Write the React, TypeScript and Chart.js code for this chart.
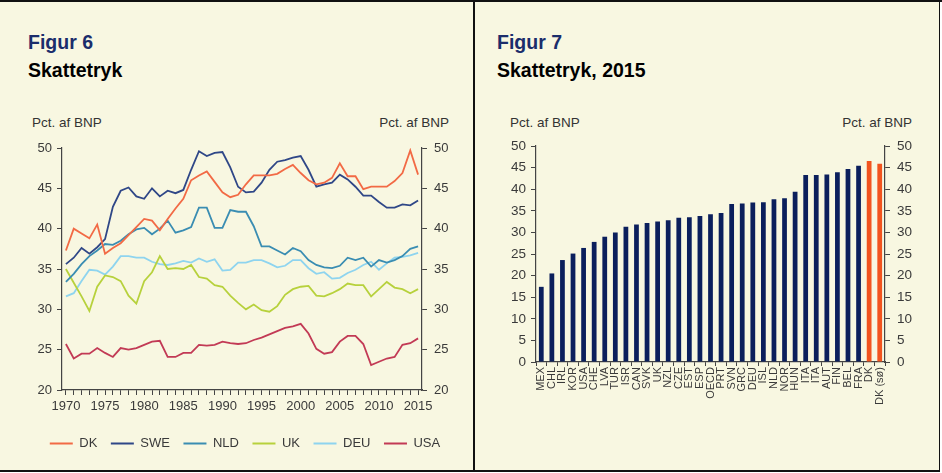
import React, { useEffect, useRef } from 'react';
import { Chart, registerables } from 'chart.js';

Chart.register(...registerables);

const FONT = '"Liberation Sans", Arial, Helvetica, sans-serif';

// ---------- Figur 6 data ----------
const years = [
  '1970', '1971', '1972', '1973', '1974', '1975', '1976', '1977', '1978', '1979',
  '1980', '1981', '1982', '1983', '1984', '1985', '1986', '1987', '1988', '1989',
  '1990', '1991', '1992', '1993', '1994', '1995', '1996', '1997', '1998', '1999',
  '2000', '2001', '2002', '2003', '2004', '2005', '2006', '2007', '2008', '2009',
  '2010', '2011', '2012', '2013', '2014', '2015',
];
const yearTickLabels = ['1970', '1975', '1980', '1985', '1990', '1995', '2000', '2005', '2010', '2015'];

const dk = [
  37.3, 40.0, 39.4, 38.8, 40.5, 36.9, 37.6, 38.2, 39.2, 40.2,
  41.2, 41.0, 39.8, 41.2, 42.5, 43.7, 46.0, 46.6, 47.1, 45.8,
  44.5, 43.9, 44.2, 45.5, 46.6, 46.6, 46.6, 46.8, 47.4, 47.9,
  46.9, 46.0, 45.5, 45.7, 46.3, 48.1, 46.5, 46.5, 44.9, 45.2,
  45.2, 45.2, 45.9, 46.9, 49.7, 46.7,
];
const swe = [
  35.6, 36.4, 37.6, 36.9, 37.7, 38.7, 42.7, 44.7, 45.1, 44.0,
  43.7, 45.0, 44.0, 44.7, 44.4, 44.8, 47.3, 49.6, 49.0, 49.4,
  49.5, 47.6, 45.2, 44.5, 44.6, 45.7, 47.3, 48.3, 48.5, 48.8,
  49.0, 47.3, 45.2, 45.5, 45.7, 46.7, 46.1, 45.2, 44.1, 44.1,
  43.3, 42.6, 42.6, 43.0, 42.9, 43.5,
];
const nld = [
  33.4, 34.4, 35.6, 36.6, 37.3, 38.1, 38.0, 38.5, 39.3, 39.9,
  40.1, 39.3, 40.0, 41.0, 39.5, 39.8, 40.2, 42.6, 42.6, 40.1,
  40.1, 42.3, 42.1, 42.1, 40.3, 37.8, 37.8, 37.3, 36.8, 37.6,
  37.2, 36.1, 35.5, 35.2, 35.1, 35.4, 36.4, 36.1, 36.4, 35.3,
  36.1, 35.8, 36.1, 36.6, 37.5, 37.8,
];
const uk = [
  35.0, 33.3, 31.6, 29.8, 32.8, 34.2, 34.0, 33.5, 31.7, 30.7,
  33.5, 34.6, 36.6, 35.0, 35.1, 35.0, 35.5, 34.0, 33.8, 33.0,
  32.8, 31.7, 30.8, 30.0, 30.6, 29.9, 29.7, 30.4, 31.8, 32.5,
  32.8, 32.9, 31.7, 31.6, 32.0, 32.5, 33.2, 33.0, 33.0, 31.6,
  32.5, 33.4, 32.7, 32.5, 32.0, 32.5,
];
const deu = [
  31.6, 32.0, 33.5, 34.9, 34.8, 34.3, 35.3, 36.6, 36.6, 36.4,
  36.4, 35.9, 35.6, 35.5, 35.7, 36.0, 35.8, 36.3, 35.9, 36.2,
  34.8, 34.9, 35.8, 35.8, 36.1, 36.1, 35.7, 35.2, 35.4, 36.1,
  36.1, 35.1, 34.4, 34.6, 33.8, 33.9, 34.5, 34.9, 35.5, 35.9,
  34.9, 35.7, 36.4, 36.5, 36.7, 37.0,
];
const usa = [
  25.7, 23.9, 24.5, 24.5, 25.2, 24.6, 24.1, 25.2, 25.0, 25.2,
  25.6, 26.0, 26.1, 24.1, 24.1, 24.6, 24.6, 25.6, 25.5, 25.6,
  26.0, 25.8, 25.7, 25.8, 26.2, 26.5, 26.9, 27.3, 27.7, 27.9,
  28.2, 27.0, 25.1, 24.5, 24.7, 26.0, 26.7, 26.7, 25.7, 23.1,
  23.5, 23.9, 24.1, 25.6, 25.8, 26.4,
];
const lineSeriesNames = ['DK', 'SWE', 'NLD', 'UK', 'DEU', 'USA'];
const lineSeriesValues = [dk, swe, nld, uk, deu, usa];
const lineColors = ['#f26a45', '#2f4787', '#3a8db2', '#b7d13c', '#8ed4ef', '#c23a55'];
const lineAxisMin = 20;
const lineAxisMax = 50;
const lineAxisStep = 5;

// ---------- Figur 7 data ----------
const countries = [
  'MEX', 'CHL', 'IRL', 'KOR', 'USA', 'CHE', 'LVA', 'TUR', 'ISR', 'CAN', 'SVK',
  'UK', 'NZL', 'CZE', 'EST', 'ESP', 'OECD', 'PRT', 'SVN', 'GRC', 'DEU', 'ISL',
  'NLD', 'NOR', 'HUN', 'ITA', 'ITA', 'AUT', 'FIN', 'BEL', 'FRA', 'DK', 'DK (sø)',
];
const burden2015 = [
  17.4, 20.5, 23.6, 25.1, 26.4, 27.8, 29.0, 30.0, 31.3, 31.8, 32.2,
  32.5, 32.8, 33.4, 33.5, 33.8, 34.2, 34.5, 36.6, 36.7, 36.9, 37.0,
  37.7, 37.9, 39.4, 43.3, 43.3, 43.4, 43.9, 44.7, 45.4, 46.5, 45.9,
];
const barAxisMin = 0;
const barAxisMax = 50;
const barAxisStep = 5;
const NAVY = '#0b1f5c';
const ORANGE = '#f2541f';

const AXIS = '#444444';
const TEXT = '#3a3a3a';

function LineChart() {
  const ref = useRef<HTMLCanvasElement | null>(null);
  useEffect(() => {
    if (!ref.current) return;
    const yScale = (position: 'left' | 'right', width: number, pad: number) => ({
      type: 'linear' as const,
      position,
      min: lineAxisMin,
      max: lineAxisMax,
      afterFit: (s: any) => { s.width = width; },
      ticks: { stepSize: lineAxisStep, color: TEXT, padding: pad, font: { family: FONT, size: 13 } },
      grid: { drawOnChartArea: false, color: AXIS, tickLength: 5, lineWidth: 1 },
      border: { color: AXIS, width: 1.2 },
    });
    const chart = new Chart(ref.current, {
      type: 'line',
      data: {
        labels: years,
        datasets: lineSeriesNames.map((name, i) => ({
          label: name,
          data: lineSeriesValues[i],
          borderColor: lineColors[i],
          backgroundColor: lineColors[i],
          borderWidth: 1.8,
          pointRadius: 0,
          tension: 0,
          yAxisID: 'y',
        })),
      },
      options: {
        responsive: false,
        animation: false,
        devicePixelRatio: 1,
        layout: { padding: { top: 18, left: 0, right: 0, bottom: 0 } },
        plugins: {
          tooltip: { enabled: false },
          legend: {
            position: 'bottom',
            labels: {
              boxWidth: 23,
              boxHeight: 2,
              padding: 13.5,
              color: TEXT,
              font: { family: FONT, size: 13 },
              generateLabels: (c: any) =>
                Chart.defaults.plugins.legend.labels.generateLabels(c).map((l: any) => ({ ...l, lineWidth: 0 })),
            },
          },
        },
        scales: {
          x: {
            type: 'category',
            offset: true,
            afterFit: (s: any) => { s.height = 33.5; },
            ticks: {
              autoSkip: false,
              maxRotation: 0,
              minRotation: 0,
              padding: 4,
              color: TEXT,
              font: { family: FONT, size: 13 },
              callback: (_v: any, idx: number) => (yearTickLabels.includes(years[idx]) ? years[idx] : ''),
            },
            grid: { drawOnChartArea: false, color: AXIS, tickLength: 5, offset: false },
            border: { color: AXIS, width: 1.2 },
          },
          y: yScale('left', 52, 5) as any,
          y2: yScale('right', 58, 7) as any,
        },
      },
    });
    return () => chart.destroy();
  }, []);
  return (
    <canvas
      ref={ref}
      width={470}
      height={330}
      style={{ position: 'absolute', left: 10, top: 130, width: 470, height: 330 }}
    />
  );
}

function BarChart() {
  const ref = useRef<HTMLCanvasElement | null>(null);
  useEffect(() => {
    if (!ref.current) return;
    const yScale = (position: 'left' | 'right', width: number, pad: number) => ({
      type: 'linear' as const,
      position,
      min: barAxisMin,
      max: barAxisMax,
      afterFit: (s: any) => { s.width = width; },
      ticks: { stepSize: barAxisStep, color: TEXT, padding: pad, font: { family: FONT, size: 13.5 } },
      grid: { drawOnChartArea: false, color: AXIS, tickLength: 5, lineWidth: 1 },
      border: { color: AXIS, width: 1.2 },
    });
    const chart = new Chart(ref.current, {
      type: 'bar',
      data: {
        labels: countries,
        datasets: [
          {
            label: 'Skattetryk 2015',
            data: burden2015,
            backgroundColor: countries.map((c) => (c.startsWith('DK') ? ORANGE : NAVY)),
            categoryPercentage: 1,
            barPercentage: 0.45,
            yAxisID: 'y',
          },
        ],
      },
      options: {
        responsive: false,
        animation: false,
        devicePixelRatio: 1,
        layout: { padding: { top: 16, left: 0, right: 0, bottom: 0 } },
        plugins: { tooltip: { enabled: false }, legend: { display: false } },
        scales: {
          x: {
            type: 'category',
            afterFit: (s: any) => { s.height = 111; },
            ticks: {
              autoSkip: false,
              maxRotation: 90,
              minRotation: 90,
              padding: 1,
              color: TEXT,
              font: { family: FONT, size: 11 },
            },
            grid: { drawOnChartArea: false, color: AXIS, tickLength: 4, offset: true },
            border: { color: AXIS, width: 1.2 },
          },
          y: yScale('left', 66, 5) as any,
          y2: yScale('right', 57, 7) as any,
        },
      },
    });
    return () => chart.destroy();
  }, []);
  return (
    <canvas
      ref={ref}
      width={472}
      height={343}
      style={{ position: 'absolute', left: 470, top: 130, width: 472, height: 343 }}
    />
  );
}

const abs = (s: React.CSSProperties): React.CSSProperties => ({ position: 'absolute', ...s });

export default function App() {
  const titleBase: React.CSSProperties = { fontFamily: FONT, fontWeight: 'bold', fontSize: 19.5, lineHeight: '19.5px', whiteSpace: 'nowrap' };
  const unit: React.CSSProperties = { fontFamily: FONT, fontSize: 13.5, lineHeight: '13.5px', color: '#333', whiteSpace: 'nowrap' };
  return (
    <div style={abs({ left: 0, top: 0, width: 942, height: 473, background: '#ffffff', overflow: 'hidden' })}>
      <div style={abs({ left: 0, top: 0, width: 940, height: 472, background: '#f8f7e1' })} />
      <div style={abs({ left: 0, top: 0, width: 942, height: 2, background: '#111' })} />
      <div style={abs({ left: 0, top: 470, width: 940, height: 2, background: '#111' })} />
      <div style={abs({ left: 473, top: 0, width: 2, height: 472, background: '#111' })} />
      <div style={abs({ left: 939, top: 0, width: 1, height: 472, background: '#111' })} />

      <div style={abs({ ...titleBase, left: 28, top: 33, color: '#1b2d6b' })}>Figur 6</div>
      <div style={abs({ ...titleBase, left: 28, top: 61, color: '#000' })}>Skattetryk</div>
      <div style={abs({ ...unit, left: 32, top: 115.5 })}>Pct. af BNP</div>
      <div style={abs({ ...unit, left: 300, width: 149, top: 115.5, textAlign: 'right' })}>Pct. af BNP</div>

      <div style={abs({ ...titleBase, left: 497, top: 33, color: '#1b2d6b' })}>Figur 7</div>
      <div style={abs({ ...titleBase, left: 497, top: 61, color: '#000' })}>Skattetryk, 2015</div>
      <div style={abs({ ...unit, left: 510, top: 115.5 })}>Pct. af BNP</div>
      <div style={abs({ ...unit, left: 760, width: 152, top: 115.5, textAlign: 'right' })}>Pct. af BNP</div>

      <LineChart />
      <BarChart />
    </div>
  );
}
